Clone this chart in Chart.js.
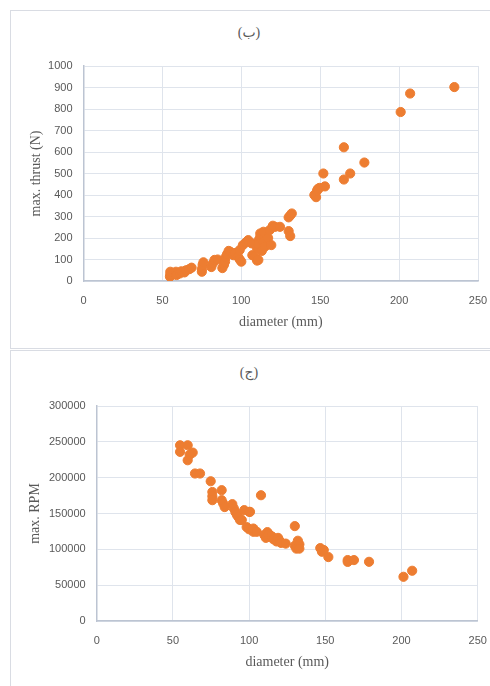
<!DOCTYPE html>
<html lang="en">
<head>
    <meta charset="UTF-8">
    <title>thrust / RPM vs diameter</title>
    <style>
        html, body {
            margin: 0;
            padding: 0;
            background: #ffffff;
            overflow: hidden;
        }
        .panel {
            position: absolute;
            left: 10px;
            width: 480px;
            border: 1px solid #d9dce3;
            border-right: none;
            box-sizing: border-box;
        }
        #panelTop { top: 10px; height: 339px; }
        #panelBottom { top: 350px; height: 340px; border-bottom: none; }
        .panel canvas {
            position: absolute;
            left: -1px;
            top: -1px;
        }
        .caption {
            position: absolute;
            left: 0;
            width: 476px;
            text-align: center;
            font-family: "Liberation Serif", "DejaVu Sans", serif;
            font-size: 14px;
            color: #595959;
        }
    </style>
    <script src="https://cdn.jsdelivr.net/npm/chart.js"></script>
</head>
<body>
    <div class="panel" id="panelTop">
        <div class="caption" style="top:13px">(ب)</div>
        <canvas id="thrustChart" width="480" height="338"></canvas>
    </div>
    <div class="panel" id="panelBottom">
        <div class="caption" style="top:13px">(ج)</div>
        <canvas id="rpmChart" width="480" height="336"></canvas>
    </div>

    <script>
        // (ب) diameter (mm) vs max. thrust (N)
        const thrustDiameter = [54.8, 55, 55, 58.6, 59, 61, 62, 64, 65, 67, 68.5, 75, 75, 75.5, 76,
            81, 82, 83, 85, 88, 89, 89.7, 90, 91, 92, 93, 95, 96, 98, 99, 99, 100, 101, 103, 104.4,
            106.6, 107, 108.7, 110, 110.8, 110, 111, 111, 112, 112, 113, 114, 114, 115, 117, 118,
            119, 120, 121.4, 124.5, 130, 131, 130, 131, 132, 146.3, 147.4, 148, 148.5, 149.5, 152,
            153, 165, 165, 169, 178, 201, 207, 235];
        const thrustValues = [20, 30, 43, 43, 28, 35, 45, 40, 50, 55, 62, 43, 55, 75, 87,
            65, 82, 98, 100, 60, 75, 90, 110, 125, 140, 136, 120, 130, 112, 100, 144, 90, 167, 180, 190,
            175, 120, 113, 95, 98, 152, 190, 170, 221, 205, 140, 229, 180, 160, 200, 237,
            167, 257, 252, 252, 232, 209, 296, 305, 314, 400, 390, 420, 428, 433, 500,
            440, 622, 472, 500, 551, 786, 872, 902];

        // (ج) diameter (mm) vs max. RPM
        const rpmDiameter = [54.7, 54.7, 59.7, 63, 61, 59.7, 64.5, 67.8, 74.8, 75.9, 75.9, 75.9,
            82, 82, 83, 84, 89, 90, 91, 92, 93, 94, 95.2, 96.8, 100.1, 98.4, 100, 102.8, 102.8, 105,
            100.6, 107.8, 110, 111, 112, 113, 115, 116, 118, 119, 120, 121, 124, 130, 130, 131, 132,
            133, 133, 146.7, 147.8, 149, 152, 164.7, 164.7, 168.8, 178.7, 201.3, 207];
        const rpmValues = [245200, 236000, 245200, 235000, 232000, 224300, 205800, 205800, 195000,
            180000, 174000, 168600, 182500, 168600, 164000, 159000, 163000, 157000, 152000, 148000,
            145000, 141000, 141000, 154700, 152300, 131000, 128000, 124500, 129000, 124500,
            152300, 175500, 120000, 116000, 124000, 121000, 118000, 114000, 111000, 116000, 112000,
            109000, 108000, 132400, 105000, 101000, 112000, 107000, 101000, 101700, 96600, 99000,
            89200, 85000, 82500, 85000, 82600, 61700, 70100];

        const xTicks = [0, 50, 100, 150, 200, 250];
        const thrustTicks = [0, 100, 200, 300, 400, 500, 600, 700, 800, 900, 1000];
        const rpmTicks = [0, 50000, 100000, 150000, 200000, 250000, 300000];

        const pointColor = '#ed7d31';
        const tickFont = { family: 'Liberation Sans', size: 11 };
        const titleFont = { family: 'Liberation Serif', size: 14 };
        const textColor = '#595959';
        const gridColor = '#dfe4ec';
        const axisColor = '#bcc4d2';

        function pairs(xs, ys) {
            return xs.map((x, i) => ({ x: x, y: ys[i] }));
        }

        function makeChart(id, xs, ys, yTicks, yLabel, box) {
            const ctx = document.getElementById(id).getContext('2d');
            return new Chart(ctx, {
                type: 'scatter',
                data: {
                    datasets: [{
                        data: pairs(xs, ys),
                        backgroundColor: pointColor,
                        borderColor: pointColor,
                        pointRadius: 4.6,
                        pointHoverRadius: 4.6
                    }]
                },
                options: {
                    responsive: false,
                    animation: false,
                    layout: { padding: { top: box.top, right: box.right, left: 0, bottom: 0 } },
                    plugins: { legend: { display: false }, tooltip: { enabled: false } },
                    scales: {
                        x: {
                            type: 'linear',
                            min: xTicks[0],
                            max: xTicks[xTicks.length - 1],
                            afterBuildTicks: s => { s.ticks = xTicks.map(v => ({ value: v })); },
                            afterFit: s => {
                                s.height = box.xHeight;
                                s.paddingLeft = 0;
                                s.paddingRight = 0;
                            },
                            grid: { color: gridColor, drawTicks: false },
                            border: { color: axisColor, width: 1.5 },
                            ticks: { font: tickFont, color: textColor, padding: 13, callback: v => String(v) },
                            title: {
                                display: true,
                                text: 'diameter (mm)',
                                font: titleFont,
                                color: textColor,
                                padding: { top: 0, bottom: box.xTitlePad }
                            }
                        },
                        y: {
                            min: yTicks[0],
                            max: yTicks[yTicks.length - 1],
                            afterBuildTicks: s => { s.ticks = yTicks.map(v => ({ value: v })); },
                            afterFit: s => { s.width = box.yWidth; },
                            grid: { color: gridColor, drawTicks: false },
                            border: { color: axisColor, width: 1.5 },
                            ticks: { font: tickFont, color: textColor, padding: 11, callback: v => String(v) },
                            title: {
                                display: true,
                                text: yLabel,
                                font: titleFont,
                                color: textColor,
                                padding: { top: box.yTitlePad, bottom: 0 }
                            }
                        }
                    }
                }
            });
        }

        makeChart('thrustChart', thrustDiameter, thrustValues, thrustTicks, 'max. thrust (N)',
            { top: 56, right: 12, xHeight: 67, yWidth: 73.5, xTitlePad: 17, yTitlePad: 18 });
        makeChart('rpmChart', rpmDiameter, rpmValues, rpmTicks, 'max. RPM',
            { top: 56, right: 12.3, xHeight: 65, yWidth: 86.7, xTitlePad: 15.5, yTitlePad: 17 });
    </script>
</body>
</html>
